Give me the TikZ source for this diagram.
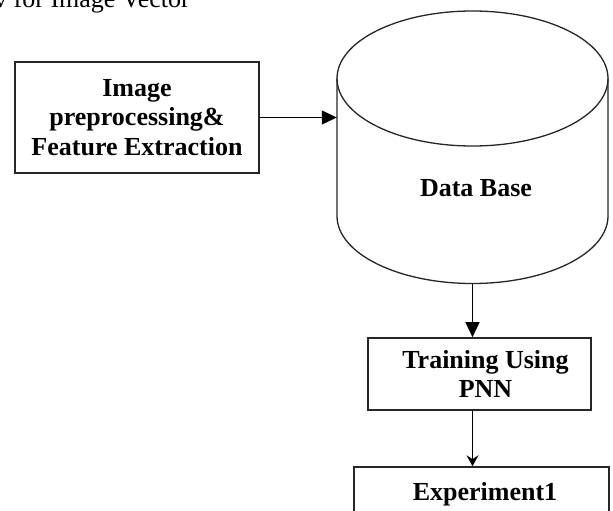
\documentclass[tikz,border=0pt]{standalone}
\usepackage{fontspec}
\setmainfont{Liberation Serif}
\usetikzlibrary{arrows.meta}
\begin{document}
\begin{tikzpicture}[x=1pt,y=-1pt,
  boxstyle/.style={draw=black!85,line width=1.6pt,align=center,inner sep=0pt,
    font=\fontsize{26}{29.5}\selectfont\bfseries},
  lbl/.style={inner sep=0pt,font=\fontsize{26}{29.5}\selectfont\bfseries},
  bigarrow/.style={line width=1.3pt,-{Triangle[length=15pt,width=14pt]}},
  smallarrow/.style={line width=1.3pt,-{Stealth[length=11pt,width=12pt,inset=4pt]}},
  cyl/.style={draw=black!85,line width=1.3pt}]
\useasboundingbox (0,0) rectangle (613,511);
\clip (0,0) rectangle (613,511);
% caption fragment
\node[anchor=base west,inner sep=0pt,font=\fontsize{26}{30}\selectfont] (cap) at (-6,8) {v for Image Vector};
% left box
\node[boxstyle,minimum width=244pt,minimum height=111pt] (img) at (137,117.5)
  {Image\\preprocessing\&\\Feature Extraction};
% cylinder
\node[inner sep=0pt,minimum width=271pt,minimum height=273pt] (db) at (472.5,147.5) {};
\draw[cyl] (337,78.5) -- (337,216) arc[start angle=180,end angle=360,x radius=135.5pt,y radius=67.5pt]
  -- (608,78.5);
\draw[cyl] (472.5,78.5) ellipse[x radius=135.5pt,y radius=67.5pt];
\node[lbl] (dbtext) at (476,188) {Data Base};
% training box
\node[boxstyle,minimum width=223pt,minimum height=72pt] (train) at (479.5,374)
  {\hspace*{12pt}Training Using\\\hspace*{12pt}PNN};
% experiment box
\node[boxstyle,minimum width=255pt,minimum height=63pt,text height=18pt,text depth=15pt] (exp) at (481.5,498.5)
  {\hspace*{7pt}Experiment1};
% connectors
\draw[bigarrow] (img.east) -- (img.east -| db.west);
\draw[bigarrow] (db.south) -- (db.south |- train.north);
\draw[smallarrow] (train.south -| db.south) -- (exp.north -| db.south);
\end{tikzpicture}
\end{document}
